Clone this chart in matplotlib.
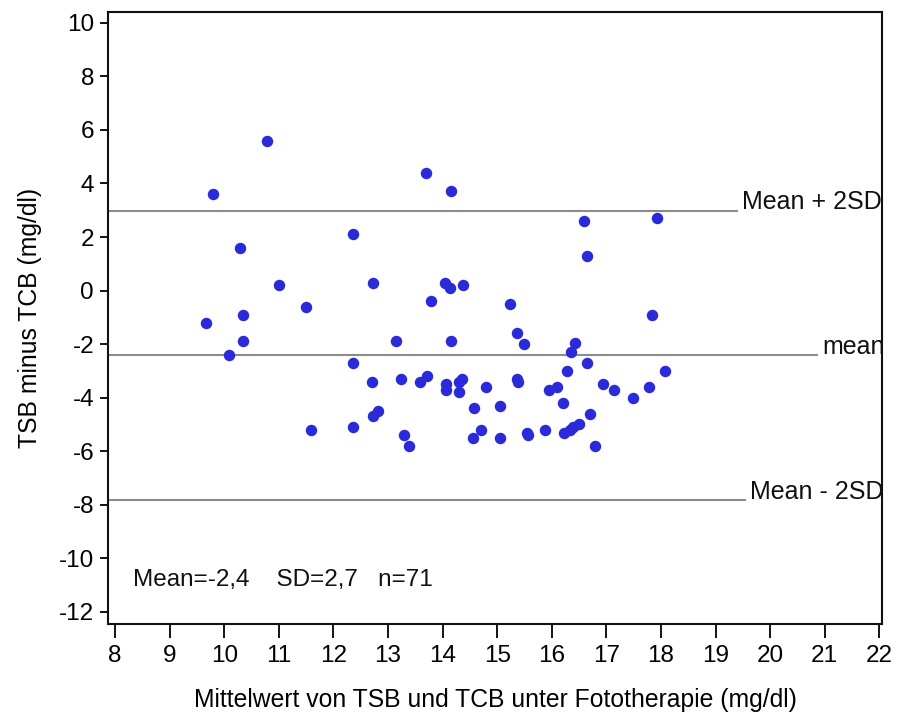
import matplotlib
matplotlib.use('Agg')
import matplotlib.pyplot as plt

plt.rcParams['font.family'] = ['Liberation Sans', 'DejaVu Sans']
plt.rcParams['axes.unicode_minus'] = False

# mean of TSB and TCB (x) and difference TSB - TCB (y)
mean_tsb_tcb = [9.67, 9.79, 10.09, 10.29, 10.35, 10.35, 10.79, 11.00, 11.49, 11.59,
                12.35, 12.35, 12.35, 12.73, 12.70, 12.73, 12.82, 13.15, 13.23, 13.29,
                13.38, 13.59, 13.71, 13.70, 13.79, 14.04, 14.14, 14.38, 14.15, 14.15,
                14.06, 14.06, 14.30, 14.36, 14.30, 14.58, 14.55, 14.70, 14.79, 15.05,
                15.05, 15.23, 15.37, 15.36, 15.39, 15.50, 15.54, 15.57, 15.88, 15.94,
                16.09, 16.20, 16.23, 16.28, 16.33, 16.35, 16.39, 16.43, 16.50, 16.59,
                16.64, 16.64, 16.70, 16.79, 16.93, 17.14, 17.49, 17.79, 17.84, 17.93,
                18.08]
diff_tsb_tcb = [-1.2, 3.6, -2.4, 1.6, -0.9, -1.9, 5.6, 0.2, -0.6, -5.2,
                2.1, -2.7, -5.1, 0.3, -3.4, -4.7, -4.5, -1.9, -3.3, -5.4,
                -5.8, -3.4, -3.2, 4.4, -0.4, 0.3, 0.1, 0.2, 3.7, -1.9,
                -3.5, -3.7, -3.4, -3.3, -3.8, -4.4, -5.5, -5.2, -3.6, -4.3,
                -5.5, -0.5, -1.6, -3.3, -3.4, -2.0, -5.3, -5.4, -5.2, -3.7,
                -3.6, -4.2, -5.3, -3.0, -5.2, -2.3, -5.1, -1.95, -5.0, 2.6,
                1.3, -2.7, -4.6, -5.8, -3.5, -3.7, -4.0, -3.6, -0.9, 2.7,
                -3.0]

mean_diff = -2.42
sd_diff = 2.7
ref_labels = ['Mean + 2SD', 'mean', 'Mean - 2SD']
ref_values = [mean_diff + 2 * sd_diff, mean_diff, mean_diff - 2 * sd_diff]
ref_line_end = [19.39, 20.86, 19.54]

x_ticks = list(range(8, 23))
y_ticks = list(range(-12, 11, 2))

fig = plt.figure(figsize=(8.97, 7.25), dpi=100)
ax = fig.add_axes([0.1204, 0.1393, 0.8629, 0.8441])
ax.set_xlim(7.87, 22.05)
ax.set_ylim(-12.45, 10.4)

for lab, val, xend in zip(ref_labels, ref_values, ref_line_end):
    ax.plot([7.87, xend], [val, val], color='#8c8c8c', lw=1.5, zorder=2)
    ax.text(xend + 0.09, val + 0.05, lab, ha='left', va='baseline',
            fontsize=18, color='#111111')

ax.scatter(mean_tsb_tcb, diff_tsb_tcb, s=68, color='#2a2ad8', linewidths=0, zorder=3)

ax.text(8.33, -10.8, 'Mean=-2,4    SD=2,7   n=71', ha='left', va='center',
        fontsize=17.5, color='#111111')

ax.set_xticks(x_ticks)
ax.set_yticks(y_ticks)
ax.tick_params(axis='x', length=10, width=1.3, pad=5, labelsize=17.5)
ax.tick_params(axis='y', length=6, width=1.3, pad=4, labelsize=17.5)
for sp in ax.spines.values():
    sp.set_linewidth(1.5)
    sp.set_color('#111111')

ax.set_xlabel('Mittelwert von TSB und TCB unter Fototherapie (mg/dl)', fontsize=17.8, labelpad=15)
ax.set_ylabel('TSB minus TCB (mg/dl)', fontsize=17.8, labelpad=12)

plt.savefig('out.png', dpi=100)
